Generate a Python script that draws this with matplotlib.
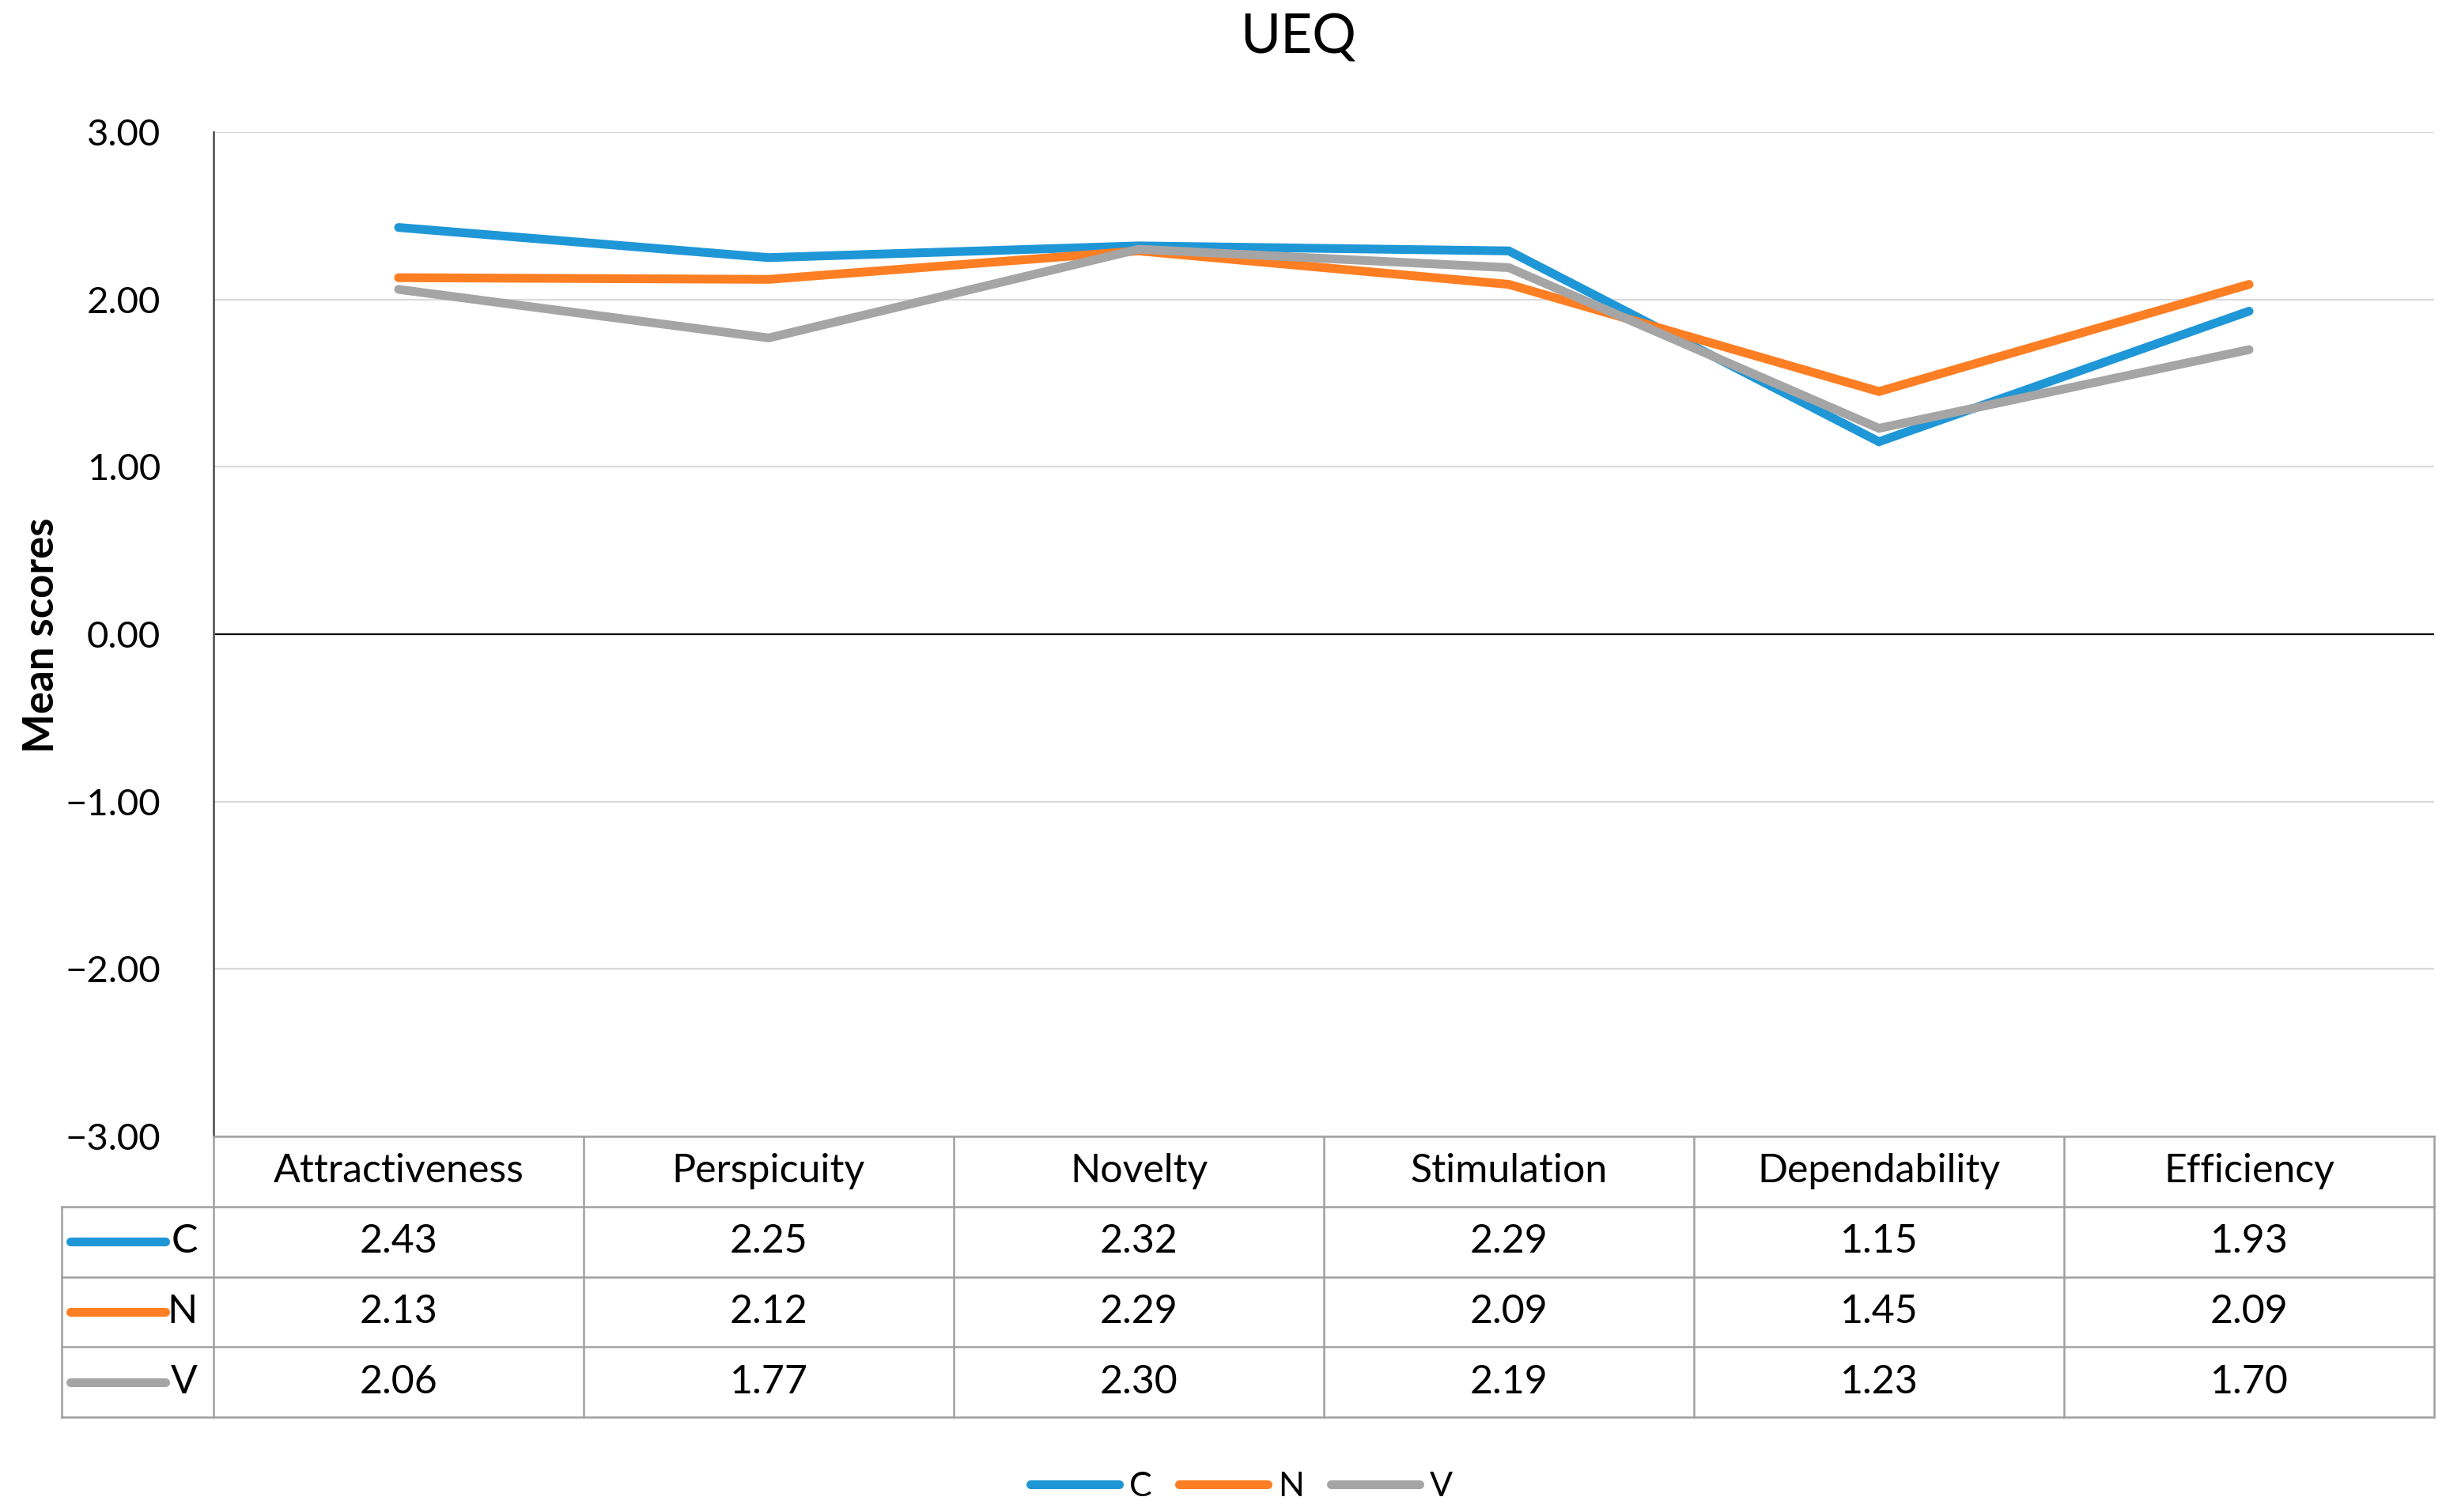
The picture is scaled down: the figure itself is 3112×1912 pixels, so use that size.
import numpy as np
import matplotlib
matplotlib.use("Agg")
import matplotlib.pyplot as plt
from matplotlib.ticker import FuncFormatter

plt.rcParams['font.family'] = ['Lato', 'DejaVu Sans']

categories = ['Attractiveness', 'Perspicuity', 'Novelty', 'Stimulation', 'Dependability', 'Efficiency']
series_names = ['C', 'N', 'V']
c_vals = [2.43, 2.25, 2.32, 2.29, 1.15, 1.93]
n_vals = [2.13, 2.12, 2.29, 2.09, 1.45, 2.09]
v_vals = [2.06, 1.77, 2.30, 2.19, 1.23, 1.70]
colors = ['#1f97d6', '#fd7e23', '#a5a5a5']

W, H = 3112, 1912


def fx(px):
    return px / W


def fy(py):
    return 1 - py / H


fig = plt.figure(figsize=(W / 100, H / 100), dpi=100)

# main line chart
ax = fig.add_axes([fx(270), fy(1437), fx(3078) - fx(270), fy(167) - fy(1437)])
x = np.arange(len(categories))
for vals, col, name in zip([c_vals, n_vals, v_vals], colors, series_names):
    ax.plot(x, vals, color=col, lw=8, solid_capstyle='round',
            solid_joinstyle='miter', label=name, zorder=3)

ax.set_xlim(-0.5, len(categories) - 0.5)
ax.set_ylim(-3, 3)
ax.set_yticks(np.arange(-3, 4, 1))
ax.yaxis.set_major_formatter(FuncFormatter(lambda v, p: f'{v:.2f}'.replace('-', '\u2212')))
ax.set_xticks([])
ax.grid(axis='y', color='#d9d9d9', lw=1.6, zorder=0)
ax.axhline(0, color='black', lw=1.6, zorder=2)
for s in ['top', 'right', 'bottom']:
    ax.spines[s].set_visible(False)
ax.spines['left'].set_color('#595959')
ax.spines['left'].set_linewidth(2)
ax.tick_params(axis='y', length=0, pad=48, labelsize=34)

# data table below the chart
left_w = 192 / 468
xmin = -0.5 - left_w
tab = fig.add_axes([fx(78), fy(1792), fx(3078) - fx(78), fy(1437) - fy(1792)])
tab.set_xlim(xmin, len(categories) - 0.5)
tab.set_ylim(4, 0)
tab.axis('off')
gc = '#a0a0a0'
tab.plot([-0.5, 5.5], [0, 0], color=gc, lw=1.8, clip_on=False)
for r in range(1, 5):
    tab.plot([xmin, 5.5], [r, r], color=gc, lw=1.8, clip_on=False)
for c in np.arange(-0.5, 6.0, 1.0):
    tab.plot([c, c], [0, 4], color=gc, lw=1.8, clip_on=False)
tab.plot([xmin, xmin], [1, 4], color=gc, lw=1.8, clip_on=False)

for i, cat in enumerate(categories):
    tab.text(i, 0.5, cat, ha='center', va='center', fontsize=36)
for r, (vals, col, name) in enumerate(zip([c_vals, n_vals, v_vals], colors, series_names)):
    yy = r + 1.5
    tab.plot([xmin + 11 / 468, xmin + 131 / 468], [yy, yy], color=col, lw=8,
             solid_capstyle='round', clip_on=False)
    tab.text(xmin + 172 / 468, yy, name, ha='right', va='center', fontsize=36)
    for i, v in enumerate(vals):
        tab.text(i, yy, f'{v:.2f}', ha='center', va='center', fontsize=36)

fig.text(fx(1642), fy(48), 'UEQ', ha='center', va='center', fontsize=50)
fig.text(fx(53), fy(803), 'Mean scores', ha='center', va='center', rotation=90,
         fontsize=38, fontweight='bold')

handles, labels = ax.get_legend_handles_labels()
fig.legend(handles, labels, loc='center', bbox_to_anchor=(fx(1570), fy(1880)),
           ncol=3, frameon=False, fontsize=31, handlelength=2.6,
           handletextpad=0.3, columnspacing=0.8)

fig.savefig('out.png', dpi=100)
